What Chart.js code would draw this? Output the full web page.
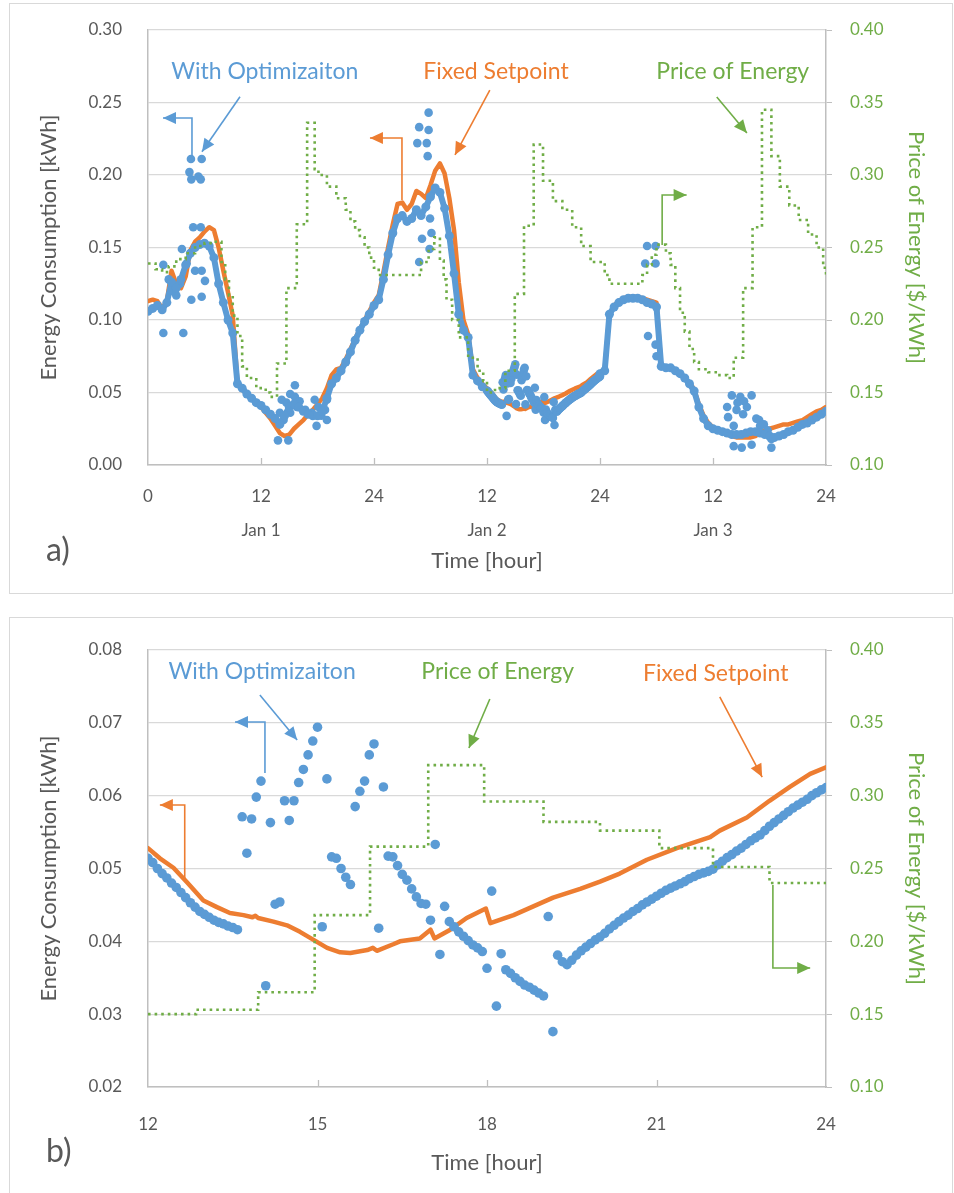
<!DOCTYPE html>
<html>
<head>
<meta charset="utf-8">
<script src="https://cdn.jsdelivr.net/npm/chart.js@4.4.1/dist/chart.umd.min.js"></script>
<style>
  body { margin: 0; background: #fff; overflow: hidden; }
  .box { position: absolute; left: 9px; width: 942px; border: 1px solid #d9d9d9; }
  canvas { position: absolute; left: 11px; }
  .tag { position: absolute; left: 46px; font: 32px Lato, sans-serif; color: #595959; line-height: 38px; }
</style>
</head>
<body>
<div class="box" style="top:3px;height:589px"></div>
<div class="box" style="top:617px;height:590px"></div>
<canvas id="chartA" width="940" height="588" style="top:4px"></canvas>
<canvas id="chartB" width="940" height="575" style="top:618px"></canvas>
<div class="tag" style="top:530px">a)</div>
<div class="tag" style="top:1131px">b)</div>
<script>
const BLUE = '#5B9BD5';
const ORANGE = '#ED7D31';
const GREEN = '#70AD47';
const GRID = '#D9D9D9';
const AXIS = '#BFBFBF';
const INK = '#595959';

/* ---- data: panel a), three days, half hour samples ---- */
const topStep = 0.5;
const dayLabels = ['Jan 1', 'Jan 2', 'Jan 3'];

// with optimization, hours 0 - 35.5
const optTopEarly = [
  0.106, 0.108, 0.110, 0.107, 0.112, 0.126, 0.122, 0.128, 0.138, 0.146,
  0.150, 0.152, 0.153, 0.151, 0.143, 0.125, 0.112, 0.100, 0.091, 0.056,
  0.053, 0.049, 0.046, 0.043, 0.041, 0.038, 0.035, 0.032, 0.028, 0.034,
  0.040, 0.042, 0.040, 0.037, 0.035, 0.034, 0.034, 0.037, 0.046, 0.056,
  0.060, 0.065, 0.071, 0.078, 0.086, 0.093, 0.099, 0.104, 0.110, 0.114,
  0.128, 0.145, 0.160, 0.170, 0.172, 0.168, 0.170, 0.176, 0.172, 0.178,
  0.185, 0.191, 0.188, 0.177, 0.158, 0.132, 0.104, 0.093, 0.088, 0.062,
  0.058, 0.054
];
// with optimization, hours 48 - 72
const optTopLate = [
  0.063, 0.065, 0.104, 0.109, 0.112, 0.114, 0.115, 0.115, 0.115, 0.114,
  0.112, 0.111, 0.109, 0.068, 0.067, 0.067, 0.065, 0.063, 0.060, 0.056,
  0.051, 0.040, 0.032, 0.027, 0.025, 0.024, 0.023, 0.022, 0.021, 0.021,
  0.021, 0.022, 0.023, 0.023, 0.022, 0.021, 0.020, 0.019, 0.020, 0.021,
  0.023, 0.024, 0.026, 0.028, 0.029, 0.031, 0.033, 0.035, 0.037
];
// scattered optimization points away from the main curve
const optTopOutHour = [
  4.56, 5.70, 4.40, 4.60, 5.35, 5.60, 4.80, 5.60, 3.60, 1.63, 1.63, 3.75,
  5.70, 4.60, 5.00, 5.70, 6.05, 3.40, 2.20, 4.10, 3.00, 2.50,
  13.8, 14.9, 14.0, 14.2, 14.4, 14.7, 15.1, 15.6, 15.6, 15.1, 15.8, 16.1,
  16.7, 17.4, 17.7, 17.9, 18.1, 18.4, 18.8, 19.0, 19.0,
  29.8, 28.8, 29.8, 28.6, 29.6, 29.7, 29.1, 28.8, 29.9, 30.1, 29.95,
  52.8, 53.0, 53.9, 53.9, 53.1, 53.9, 54.0,
  61.5, 61.6, 62.0, 62.2, 62.2, 62.5, 62.6, 62.9, 63.05, 63.2, 63.3, 63.6,
  64.1, 64.1, 64.6, 64.9, 65.0, 65.4, 65.8, 66.2, 66.2
];
const optTopOutKwh = [
  0.211, 0.211, 0.202, 0.197, 0.199, 0.197, 0.164, 0.164, 0.149, 0.138, 0.091, 0.091,
  0.116, 0.114, 0.134, 0.134, 0.127, 0.125, 0.128, 0.139, 0.117, 0.120,
  0.017, 0.017, 0.036, 0.045, 0.031, 0.043, 0.049, 0.055, 0.047, 0.036, 0.040, 0.044,
  0.038, 0.036, 0.045, 0.027, 0.040, 0.034, 0.038, 0.045, 0.031,
  0.243, 0.233, 0.231, 0.222, 0.222, 0.213, 0.156, 0.140, 0.149, 0.160, 0.170,
  0.139, 0.151, 0.151, 0.139, 0.089, 0.083, 0.075,
  0.040, 0.033, 0.048, 0.027, 0.013, 0.038, 0.043, 0.047, 0.012, 0.035, 0.044, 0.040,
  0.048, 0.014, 0.032, 0.031, 0.027, 0.028, 0.024, 0.018, 0.012
];
// fixed setpoint, hours 0 - 35.5 and 48 - 72
const fixedTopEarly = [
  0.113, 0.114, 0.113, 0.108, 0.113, 0.134, 0.125, 0.122, 0.130, 0.148,
  0.154, 0.157, 0.161, 0.164, 0.162, 0.150, 0.134, 0.119, 0.103, 0.057,
  0.052, 0.049, 0.046, 0.043, 0.040, 0.036, 0.032, 0.027, 0.022, 0.020,
  0.021, 0.025, 0.028, 0.031, 0.035, 0.038, 0.042, 0.046, 0.053, 0.062,
  0.066, 0.067, 0.073, 0.080, 0.087, 0.094, 0.100, 0.106, 0.112, 0.117,
  0.133, 0.150, 0.166, 0.180, 0.181, 0.176, 0.180, 0.189, 0.187, 0.184,
  0.193, 0.203, 0.208, 0.201, 0.184, 0.162, 0.126, 0.100, 0.090, 0.066,
  0.060, 0.056
];
const fixedTopLate = [
  0.064, 0.066, 0.104, 0.110, 0.113, 0.115, 0.116, 0.116, 0.116, 0.115,
  0.114, 0.113, 0.112, 0.068, 0.067, 0.066, 0.065, 0.063, 0.060, 0.057,
  0.052, 0.042, 0.034, 0.029, 0.026, 0.024, 0.023, 0.021, 0.020, 0.019,
  0.019, 0.019, 0.019, 0.020, 0.022, 0.024, 0.025, 0.026, 0.027, 0.028,
  0.028, 0.029, 0.030, 0.031, 0.033, 0.035, 0.037, 0.038, 0.040
];
// price of energy, step start hour and value
const priceTopEarlyHour = [
  0, 0.8, 1.5, 2.2, 3, 4, 5, 6, 7, 7.8, 8.2, 8.6, 9, 9.5, 10, 10.5, 11.5,
  12.5, 13, 13.7, 14.7, 15.8, 16.9, 17.7, 18.1, 19, 20, 21, 21.5, 22, 22.5,
  23, 23.5, 24, 24.5, 29, 29.8, 30.4, 31, 31.4, 31.7, 32.3, 33, 34, 35, 35.6
];
const priceTopEarlyVal = [
  0.239, 0.235, 0.233, 0.237, 0.242, 0.246, 0.251, 0.253, 0.254, 0.240, 0.228, 0.217, 0.203, 0.189, 0.168, 0.160, 0.153,
  0.150, 0.147, 0.170, 0.222, 0.266, 0.336, 0.304, 0.300, 0.292, 0.284, 0.276, 0.268, 0.262, 0.257,
  0.250, 0.243, 0.236, 0.231, 0.240, 0.249, 0.257, 0.241, 0.228, 0.214, 0.200, 0.188, 0.174, 0.165, 0.158
];
const priceTopLateHour = [
  48, 48.5, 49, 52.5, 53, 53.5, 54, 55, 55.5, 56, 56.5, 57, 57.5, 58, 58.5,
  59.5, 60.5, 61.5, 62.2, 63.2, 64.2, 65.2, 66.2, 67.1, 68.1, 69.1, 70.1, 71, 71.7, 72
];
const priceTopLateVal = [
  0.240, 0.231, 0.225, 0.231, 0.238, 0.245, 0.252, 0.246, 0.238, 0.222, 0.205, 0.192, 0.180, 0.171, 0.166,
  0.164, 0.162, 0.160, 0.174, 0.222, 0.264, 0.345, 0.313, 0.292, 0.279, 0.269, 0.259, 0.250, 0.236, 0.230
];

/* ---- data: panel b), Jan 2 from 12 to 24 h, five minute samples ---- */
const botStep = 1 / 12;
const optBot = [
  0.0514, 0.0508, 0.0500, 0.0493, 0.0487, 0.0480, 0.0474, 0.0467, 0.0460, 0.0453,
  0.0447, 0.0441, 0.0437, 0.0433, 0.0429, 0.0426, 0.0424, 0.0421, 0.0419, 0.0416,
  0.0571, 0.0521, 0.0568, 0.0598, 0.0620, 0.0339, 0.0563, 0.0451, 0.0454, 0.0593,
  0.0566, 0.0593, 0.0618, 0.0636, 0.0656, 0.0675, 0.0694, 0.0420, 0.0623, 0.0516,
  0.0514, 0.0500, 0.0488, 0.0478, 0.0585, 0.0606, 0.0620, 0.0656, 0.0671, 0.0418,
  0.0612, 0.0517, 0.0516, 0.0504, 0.0492, 0.0484, 0.0472, 0.0461, 0.0452, 0.0451,
  0.0429, 0.0533, 0.0382, 0.0448, 0.0427, 0.0420, 0.0413, 0.0407, 0.0401, 0.0395,
  0.0391, 0.0386, 0.0363, 0.0469, 0.0311, 0.0383, 0.0361, 0.0356, 0.0350, 0.0345,
  0.0340, 0.0337, 0.0333, 0.0329, 0.0325, 0.0434, 0.0276, 0.0381, 0.0372, 0.0368,
  0.0374, 0.0381, 0.0387, 0.0392, 0.0397, 0.0402, 0.0406, 0.0411, 0.0417, 0.0422,
  0.0427, 0.0432, 0.0436, 0.0441, 0.0445, 0.0450, 0.0454, 0.0458, 0.0462, 0.0466,
  0.0470, 0.0473, 0.0476, 0.0479, 0.0482, 0.0486, 0.0489, 0.0492, 0.0494, 0.0496,
  0.0499, 0.0505, 0.0510, 0.0515, 0.0519, 0.0524, 0.0528, 0.0533, 0.0538, 0.0542,
  0.0546, 0.0552, 0.0558, 0.0563, 0.0568, 0.0573, 0.0578, 0.0583, 0.0587, 0.0591,
  0.0595, 0.0600, 0.0604, 0.0608, 0.0611
];
const fixedBotHour = [
  12.0, 12.21, 12.45, 12.69, 12.98, 13.22, 13.45, 13.69, 13.85, 13.9, 13.95, 14.22,
  14.46, 14.69, 14.93, 15.17, 15.4, 15.58, 15.88, 15.98, 16.05, 16.34, 16.46, 16.81,
  17.0, 17.07, 17.35, 17.64, 17.98, 18.06, 18.47, 18.88, 19.17, 19.65, 20.0, 20.35,
  20.83, 21.36, 21.95, 22.12, 22.6, 23.0, 23.36, 23.72, 24.0
];
const fixedBotKwh = [
  0.0528, 0.0514, 0.0501, 0.0481, 0.0456, 0.0447, 0.0439, 0.0436, 0.0433, 0.0435, 0.0432, 0.0427,
  0.0422, 0.0413, 0.0402, 0.0391, 0.0385, 0.0384, 0.0388, 0.0391, 0.0387, 0.0396, 0.0400, 0.0404,
  0.0416, 0.0404, 0.0416, 0.0432, 0.0445, 0.0425, 0.0436, 0.0450, 0.0460, 0.0472, 0.0482, 0.0493,
  0.0512, 0.0528, 0.0543, 0.0552, 0.0570, 0.0593, 0.0612, 0.0630, 0.0639
];
const priceBotHour = [12, 12.85, 13.95, 14.95, 15.93, 16.96, 17.95, 19, 20, 21.05, 22, 23, 24];
const priceBotVal = [0.150, 0.153, 0.165, 0.218, 0.265, 0.321, 0.296, 0.282, 0.276, 0.264, 0.251, 0.240, 0.240];

/* ---- helpers ---- */
Chart.defaults.font.family = 'Lato, "Open Sans", sans-serif';
Chart.defaults.color = INK;

function onGrid(values, start, step) {
  return values.map(function (v, i) { return { x: start + i * step, y: v }; });
}

function zipXY(xs, ys, shift) {
  return xs.map(function (x, i) { return { x: x + shift, y: ys[i] }; });
}

function drawArrow(ctx, pts, color) {
  ctx.strokeStyle = color;
  ctx.fillStyle = color;
  ctx.lineWidth = 1.6;
  ctx.beginPath();
  ctx.moveTo(pts[0][0], pts[0][1]);
  for (let i = 1; i < pts.length; i++) ctx.lineTo(pts[i][0], pts[i][1]);
  ctx.stroke();

  let a = pts[pts.length - 2];
  let b = pts[pts.length - 1];
  let ang = Math.atan2(b[1] - a[1], b[0] - a[0]);
  let len = 13, half = 6;
  ctx.beginPath();
  ctx.moveTo(b[0], b[1]);
  ctx.lineTo(b[0] - len * Math.cos(ang) + half * Math.sin(ang), b[1] - len * Math.sin(ang) - half * Math.cos(ang));
  ctx.lineTo(b[0] - len * Math.cos(ang) - half * Math.sin(ang), b[1] - len * Math.sin(ang) + half * Math.cos(ang));
  ctx.closePath();
  ctx.fill();
}

// labels, arrows and the small inside ticks of the time axis
const notesPlugin = {
  id: 'notes',
  afterDatasetsDraw: function (chart, args, opts) {
    const ctx = chart.ctx;
    const xs = chart.scales.x;
    const ys = chart.scales.y;
    const area = chart.chartArea;
    ctx.save();

    ctx.strokeStyle = AXIS;
    ctx.lineWidth = 1.3;
    xs.ticks.forEach(function (t, i) {
      if (i === 0 || i === xs.ticks.length - 1) return;
      let px = Math.round(xs.getPixelForValue(t.value)) + 0.5;
      ctx.beginPath();
      ctx.moveTo(px, area.bottom);
      ctx.lineTo(px, area.bottom - 7);
      ctx.stroke();
    });

    (opts.arrows || []).forEach(function (a) {
      let pts = a.pts.map(function (p) { return [xs.getPixelForValue(p[0]), ys.getPixelForValue(p[1])]; });
      drawArrow(ctx, pts, a.color);
    });

    ctx.font = '23px Lato, "Open Sans", sans-serif';
    ctx.textAlign = 'center';
    ctx.textBaseline = 'middle';
    (opts.labels || []).forEach(function (l) {
      ctx.fillStyle = l.color;
      ctx.fillText(l.text, xs.getPixelForValue(l.x), ys.getPixelForValue(l.y));
    });
    ctx.restore();
  }
};

// fixed axis width; the label padding should not push the plot area down
function fixWidth(width) {
  return function (s) {
    s.width = width;
    s.paddingTop = 0;
    s.paddingBottom = 0;
  };
}

function leftAxis(min, max, step, width) {
  return {
    position: 'left', min: min, max: max,
    ticks: { stepSize: step, padding: 26, color: INK, font: { size: 17 }, callback: function (v) { return v.toFixed(2); } },
    grid: { color: GRID, lineWidth: 1.3, drawTicks: false },
    border: { color: AXIS, width: 1.5 },
    title: { display: true, text: 'Energy Consumption [kWh]', color: INK, font: { size: 22 }, padding: { top: 25, bottom: 0 } },
    afterFit: fixWidth(width)
  };
}

function rightAxis(width) {
  return {
    position: 'right', min: 0.10, max: 0.40,
    ticks: { stepSize: 0.05, padding: 18, color: GREEN, font: { size: 17 }, callback: function (v) { return v.toFixed(2); } },
    grid: { drawOnChartArea: false, drawTicks: true, tickLength: 6, color: AXIS },
    border: { color: AXIS, width: 1.5 },
    title: { display: true, text: 'Price of Energy [$/kWh]', color: GREEN, font: { size: 22 }, padding: { top: 22, bottom: 0 } },
    afterFit: fixWidth(width)
  };
}

function priceSet(data) {
  return { label: 'Price of Energy', data: data, yAxisID: 'y2', showLine: true, stepped: true,
    borderColor: GREEN, borderWidth: 2.6, borderDash: [2.6, 4], pointRadius: 0, order: 0 };
}

function fixedSet(data) {
  return { label: 'Fixed Setpoint', data: data, showLine: true, borderColor: ORANGE, borderWidth: 4.5,
    borderJoinStyle: 'round', borderCapStyle: 'round', pointRadius: 0, order: 2 };
}

function optSet(data, line, radius) {
  return { label: 'With Optimizaiton', data: data, showLine: line, borderColor: BLUE, borderWidth: 6,
    borderJoinStyle: 'round', borderCapStyle: 'round', pointRadius: radius, pointBackgroundColor: BLUE,
    pointBorderWidth: 0, order: 1 };
}

/* ---- panel a) ---- */
new Chart(document.getElementById('chartA'), {
  type: 'scatter',
  data: {
    datasets: [
      priceSet(zipXY(priceTopEarlyHour, priceTopEarlyVal, 0)
        .concat(zipXY(priceBotHour, priceBotVal, 24), zipXY(priceTopLateHour, priceTopLateVal, 0))),
      optSet(onGrid(optTopEarly, 0, topStep), true, 4.5),
      optSet(onGrid(optBot, 36, botStep), false, 4.3),
      optSet(onGrid(optTopLate, 48, topStep), true, 4.5),
      optSet(zipXY(optTopOutHour, optTopOutKwh, 0), false, 4.3),
      fixedSet(onGrid(fixedTopEarly, 0, topStep)
        .concat(zipXY(fixedBotHour, fixedBotKwh, 24), onGrid(fixedTopLate, 48, topStep)))
    ]
  },
  options: {
    responsive: false,
    animation: false,
    events: [],
    layout: { padding: { top: 26, right: 0, bottom: 0, left: 0 } },
    plugins: {
      legend: { display: false },
      tooltip: { enabled: false },
      notes: {
        labels: [
          { text: 'With Optimizaiton', x: 12.4, y: 0.271, color: BLUE },
          { text: 'Fixed Setpoint', x: 36.95, y: 0.271, color: ORANGE },
          { text: 'Price of Energy', x: 62.1, y: 0.271, color: GREEN }
        ],
        arrows: [
          { pts: [[9.77, 0.254], [5.73, 0.216]], color: BLUE },
          { pts: [[4.67, 0.2124], [4.67, 0.2393], [1.59, 0.2393]], color: BLUE },
          { pts: [[36.3, 0.2586], [32.6, 0.2138]], color: ORANGE },
          { pts: [[26.97, 0.1828], [26.97, 0.2255], [23.57, 0.2255]], color: ORANGE },
          { pts: [[60.4, 0.2538], [63.6, 0.229]], color: GREEN },
          { pts: [[54.6, 0.1517], [54.6, 0.1862], [57.2, 0.1862]], color: GREEN }
        ]
      }
    },
    scales: {
      x: {
        type: 'linear', min: 0, max: 72,
        ticks: {
          stepSize: 12, autoSkip: false, maxRotation: 0, padding: 23, color: INK,
          font: { size: 17, lineHeight: 1.0 },
          callback: function (value) {
            let hour = value % 24;
            if (hour === 0 && value > 0) hour = 24;
            if (value % 24 === 12) return [String(hour), '', dayLabels[Math.floor(value / 24)]];
            return String(hour);
          }
        },
        grid: { drawOnChartArea: false, drawTicks: false },
        border: { color: AXIS, width: 1.5 },
        title: { display: true, text: 'Time [hour]', color: INK, font: { size: 22 }, padding: { top: 0, bottom: 18 } },
        afterFit: function (s) { s.height = 127; }
      },
      y: leftAxis(0, 0.30, 0.05, 137),
      y2: rightAxis(125)
    }
  },
  plugins: [notesPlugin]
});

/* ---- panel b) ---- */
new Chart(document.getElementById('chartB'), {
  type: 'scatter',
  data: {
    datasets: [
      priceSet(zipXY(priceBotHour, priceBotVal, 0)),
      optSet(onGrid(optBot, 12, botStep), false, 4.8),
      fixedSet(zipXY(fixedBotHour, fixedBotKwh, 0))
    ]
  },
  options: {
    responsive: false,
    animation: false,
    events: [],
    layout: { padding: { top: 32, right: 0, bottom: 0, left: 0 } },
    plugins: {
      legend: { display: false },
      tooltip: { enabled: false },
      notes: {
        labels: [
          { text: 'With Optimizaiton', x: 14.02, y: 0.0770, color: BLUE },
          { text: 'Price of Energy', x: 18.19, y: 0.0770, color: GREEN },
          { text: 'Fixed Setpoint', x: 22.05, y: 0.0767, color: ORANGE }
        ],
        arrows: [
          { pts: [[13.98, 0.07382], [14.64, 0.06764]], color: BLUE },
          { pts: [[14.07, 0.06311], [14.07, 0.07011], [13.54, 0.07011]], color: BLUE },
          { pts: [[18.05, 0.07327], [17.68, 0.06654]], color: GREEN },
          { pts: [[22.12, 0.07355], [22.87, 0.06256]], color: ORANGE },
          { pts: [[12.65, 0.04842], [12.65, 0.05872], [12.21, 0.05872]], color: ORANGE },
          { pts: [[23.06, 0.04773], [23.06, 0.03634], [23.72, 0.03634]], color: GREEN }
        ]
      }
    },
    scales: {
      x: {
        type: 'linear', min: 12, max: 24,
        ticks: { stepSize: 3, autoSkip: false, maxRotation: 0, padding: 27, color: INK, font: { size: 17 } },
        grid: { drawOnChartArea: false, drawTicks: false },
        border: { color: AXIS, width: 1.5 },
        title: { display: true, text: 'Time [hour]', color: INK, font: { size: 22 }, padding: { top: 0, bottom: 17 } },
        afterFit: function (s) { s.height = 106; }
      },
      y: leftAxis(0.02, 0.08, 0.01, 137),
      y2: rightAxis(125)
    }
  },
  plugins: [notesPlugin]
});
</script>
</body>
</html>
